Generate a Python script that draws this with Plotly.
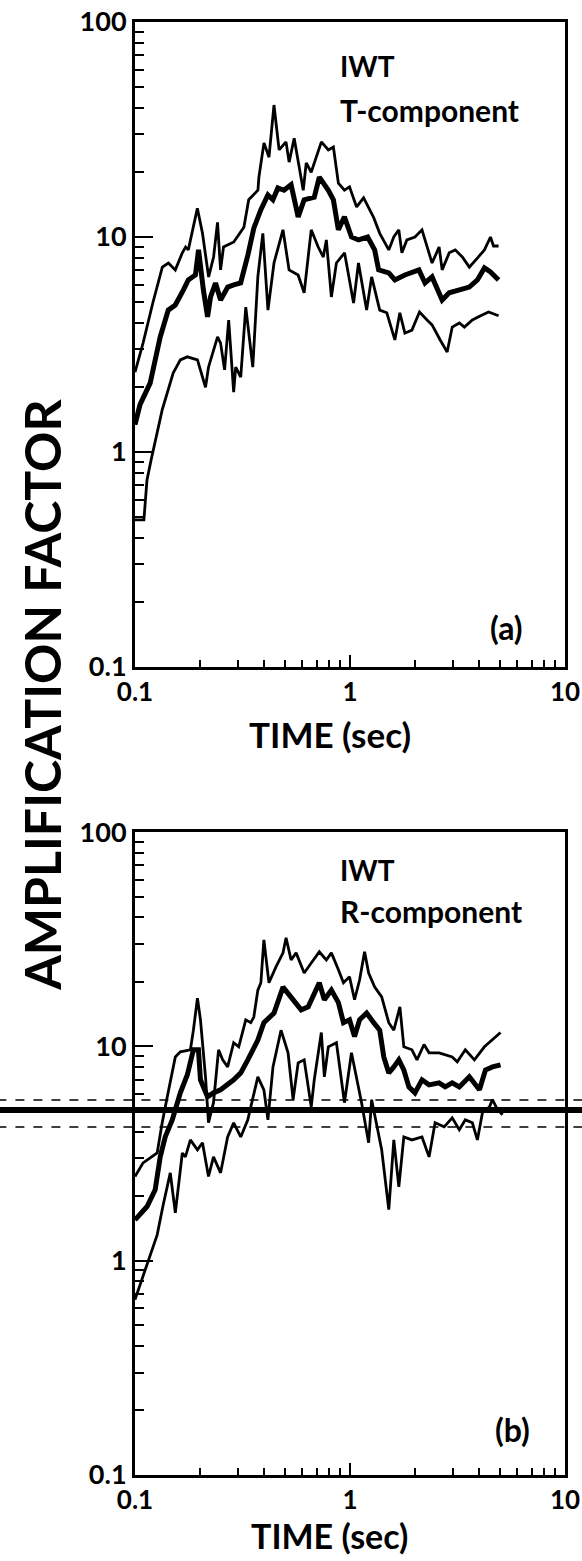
import plotly.graph_objects as go

# ---------------- data ----------------
# Panel (a): IWT T-component
t_up_x = [0.100,0.109,0.121,0.134,0.143,0.154,0.166,0.172,0.177,0.195,0.206,0.220,0.232,0.242,0.250,0.258,0.288,0.321,0.338,0.373,0.377,0.398,0.420,0.443,0.468,0.504,0.521,0.550,0.606,0.626,0.660,0.736,0.793,0.837,0.883,0.942,0.995,1.073,1.157,1.289,1.375,1.515,1.598,1.687,1.743,1.839,2.005,2.162,2.233,2.408,2.597,2.683,2.894,3.087,3.329,3.589,3.913,4.220,4.502,4.650,4.910]
t_up_y = [2.35,3.21,4.93,7.24,7.57,7.03,8.44,8.98,8.71,13.6,10.4,6.52,8.07,11.7,7.03,8.98,9.48,11.1,14.9,16.5,19.0,27.4,23.5,41.1,25.4,27.7,22.3,28.8,16.5,22.1,20.0,27.7,25.4,26.2,17.8,16.5,17.1,13.8,15.2,12.3,10.4,8.71,10.0,10.8,8.44,9.69,10.0,10.8,9.69,7.57,8.98,7.03,8.44,8.71,8.07,7.24,7.98,8.71,10.0,9.08,9.08]

t_mid_x = [0.100,0.1055,0.1176,0.131,0.1428,0.154,0.168,0.177,0.191,0.1975,0.208,0.2175,0.2246,0.2369,0.250,0.270,0.288,0.310,0.335,0.357,0.385,0.415,0.438,0.462,0.493,0.532,0.574,0.612,0.682,0.720,0.793,0.837,0.883,0.942,1.016,1.095,1.208,1.302,1.359,1.515,1.617,1.800,2.092,2.233,2.408,2.683,2.894,3.225,3.589,3.913,4.220,4.502,4.910]
t_mid_y = [1.34,1.66,2.09,3.43,4.57,4.83,5.67,6.31,6.66,8.71,5.67,4.25,5.26,6.11,5.09,5.85,5.99,6.11,8.24,11.0,13.4,15.7,14.9,16.9,16.5,17.5,12.4,14.9,15.3,19.0,16.5,14.9,10.8,12.4,10.0,9.69,10.0,8.71,7.03,6.81,6.31,6.66,7.03,6.11,6.52,5.09,5.50,5.67,5.85,6.31,7.18,6.87,6.31]

t_low_x = [0.100,0.110,0.1137,0.1188,0.1338,0.1505,0.1625,0.175,0.1952,0.2128,0.2197,0.2421,0.2501,0.261,0.2727,0.2877,0.294,0.3103,0.3275,0.353,0.3727,0.3932,0.4154,0.443,0.4878,0.5207,0.5736,0.612,0.6602,0.7113,0.7513,0.7762,0.8192,0.8646,0.9434,1.039,1.095,1.195,1.261,1.375,1.483,1.617,1.705,1.800,1.941,2.105,2.282,2.408,2.627,2.831,2.988,3.225,3.404,3.708,4.05,4.41,4.910]
t_low_y = [0.483,0.483,0.741,0.918,1.57,2.33,2.68,2.77,2.68,2.00,2.48,3.43,3.21,2.41,4.11,1.90,2.48,2.23,4.72,2.48,6.52,10.4,4.57,7.57,10.8,7.03,6.66,5.50,10.8,8.98,8.07,9.69,5.26,7.57,8.44,4.93,7.57,4.57,6.52,4.57,4.44,3.32,4.44,3.57,3.69,4.48,4.11,3.90,3.32,2.92,3.81,3.98,3.81,4.11,4.30,4.48,4.30]

# Panel (b): IWT R-component
r_up_x = [0.100,0.109,0.1268,0.1338,0.1413,0.154,0.1625,0.181,0.1869,0.1952,0.2016,0.2128,0.2197,0.2318,0.2447,0.2557,0.2697,0.2877,0.3037,0.3275,0.3456,0.357,0.3727,0.385,0.3976,0.4198,0.4525,0.4881,0.5042,0.5321,0.5616,0.6121,0.6602,0.7197,0.7762,0.8192,0.8833,0.9324,0.9947,1.050,1.108,1.169,1.221,1.303,1.404,1.515,1.599,1.706,1.780,1.941,2.049,2.210,2.332,2.597,2.988,3.154,3.439,3.790,4.220,4.600,5.013]
r_up_y = [2.47,2.86,3.18,4.40,5.82,8.93,9.43,9.64,11.9,16.8,13.3,7.21,4.40,5.46,9.64,8.65,8.02,10.4,9.95,13.3,12.9,13.7,18.3,19.8,31.4,19.8,23.5,27.3,32.1,25.3,27.3,22.0,24.5,27.6,25.3,27.3,22.8,19.8,21.1,16.5,20.4,27.6,22.0,18.9,17.0,12.9,11.9,15.3,9.95,9.64,8.65,10.2,9.33,9.33,8.93,8.47,9.64,8.65,9.95,10.7,11.6]

r_mid_x = [0.100,0.1138,0.1241,0.131,0.1382,0.149,0.1625,0.1752,0.1869,0.1973,0.2016,0.2174,0.2318,0.2501,0.2877,0.3103,0.3347,0.3727,0.3976,0.443,0.4881,0.5321,0.5927,0.6391,0.7197,0.7598,0.8192,0.8833,0.9324,0.9947,1.050,1.108,1.195,1.289,1.375,1.436,1.515,1.599,1.687,1.780,1.879,2.005,2.162,2.332,2.597,2.771,2.988,3.224,3.589,3.999,4.266,4.600,5.013]
r_mid_y = [1.55,1.79,2.14,3.05,3.78,4.54,6.07,7.37,9.64,9.64,6.98,5.82,6.07,6.27,6.98,7.52,8.65,10.7,12.9,14.3,18.9,17.0,14.8,15.3,19.8,16.5,18.3,16.0,12.9,13.3,11.1,13.3,14.3,12.9,11.9,8.93,7.52,8.02,8.65,7.76,6.47,6.07,6.98,6.61,6.76,6.47,6.76,6.47,7.21,6.27,7.76,8.02,8.20]

r_low_x = [0.100,0.1055,0.1176,0.1268,0.1352,0.1459,0.154,0.166,0.1715,0.181,0.1952,0.206,0.2197,0.2318,0.2501,0.2697,0.2877,0.3103,0.3347,0.3532,0.3727,0.3976,0.4152,0.4383,0.4777,0.5151,0.5437,0.5739,0.6121,0.6602,0.6819,0.7355,0.7598,0.7929,0.8646,0.9423,1.016,1.132,1.221,1.261,1.331,1.404,1.515,1.599,1.687,1.780,1.941,2.162,2.332,2.487,2.741,2.988,3.224,3.439,3.708,3.913,4.130,4.452,4.600,4.855,5.124]
r_low_y = [0.658,0.773,1.07,1.32,1.82,2.57,1.67,3.18,3.05,3.66,3.29,3.55,2.47,3.05,2.57,3.78,4.40,3.78,4.54,5.64,7.21,6.27,4.54,8.02,11.9,9.33,5.64,8.38,8.65,5.22,6.98,11.6,7.21,9.95,10.4,5.46,9.33,5.46,3.55,5.64,4.21,3.29,1.73,3.66,2.21,3.78,3.66,3.78,3.05,4.40,4.21,4.64,4.08,4.54,4.40,3.66,4.90,5.22,5.64,5.06,4.80]

x_tick_vals = [0.1, 1, 10]
x_tick_text = ["0.1", "1", "10"]
y_tick_vals = [0.1, 1, 10, 100]
y_tick_text = ["0.1", "1", "10", "100"]
minor_vals = [k * 10.0 ** e for e in (-1, 0, 1) for k in range(2, 10)]

series = [
    (t_up_x, t_up_y, "x", "y", 2.8), (t_mid_x, t_mid_y, "x", "y", 5.0), (t_low_x, t_low_y, "x", "y", 2.8),
    (r_up_x, r_up_y, "x2", "y2", 2.8), (r_mid_x, r_mid_y, "x2", "y2", 5.0), (r_low_x, r_low_y, "x2", "y2", 2.8),
]
for sx, sy, *_ in series:
    assert len(sx) == len(sy), (len(sx), len(sy))

FONT = "Lato"
fig = go.Figure()
for sx, sy, xa, ya, w in series:
    fig.add_trace(go.Scatter(x=sx, y=sy, xaxis=xa, yaxis=ya, mode="lines",
                             line=dict(color="black", width=w), showlegend=False,
                             hoverinfo="skip"))

def xax(anchor):
    return dict(type="log", range=[-1, 1], domain=[0, 1], anchor=anchor, automargin=False,
                showline=True, linecolor="black", linewidth=3, mirror=True,
                ticks="inside", ticklen=12, tickwidth=2, tickcolor="black",
                tickvals=x_tick_vals, ticktext=x_tick_text,
                minor=dict(ticks="inside", ticklen=7, tickwidth=2, tickcolor="black",
                           tickvals=minor_vals, showgrid=False),
                showgrid=False, zeroline=False,
                tickfont=dict(family=FONT, size=26, color="black", weight="bold"))

def yax(anchor, dom):
    return dict(type="log", range=[-1, 2], domain=dom, anchor=anchor, automargin=False,
                showline=True, linecolor="black", linewidth=3, mirror=True,
                ticks="inside", ticklen=18, tickwidth=2, tickcolor="black",
                tickvals=y_tick_vals, ticktext=y_tick_text,
                minor=dict(ticks="inside", ticklen=9, tickwidth=2, tickcolor="black",
                           tickvals=minor_vals + [k * 10.0 for k in range(20, 100, 10)],
                           showgrid=False),
                showgrid=False, zeroline=False,
                tickfont=dict(family=FONT, size=27, color="black", weight="bold"))

fig.update_layout(
    width=582, height=1561,
    margin=dict(l=135, r=17, t=22, b=86, autoexpand=False),
    paper_bgcolor="white", plot_bgcolor="white",
    xaxis=xax("y"), yaxis=yax("x", [0.5561, 1.0]),
    xaxis2=xax("y2"), yaxis2=yax("x2", [0.0, 0.4425]),
    font=dict(family=FONT, color="black"),
)

def ann(text, x, y, size, xanchor="left", angle=0):
    fig.add_annotation(text=text, x=x, y=y, xref="paper", yref="paper",
                       xanchor=xanchor, yanchor="middle", showarrow=False,
                       textangle=angle, font=dict(family=FONT, size=size, color="black", weight="bold"))

ann("IWT", 0.472, 0.9697, 28)
ann("T-component", 0.472, 0.9394, 30)
ann("(a)", 0.865, 0.5836, 32, xanchor="center")
ann("IWT", 0.472, 0.4164, 28)
ann("R-component", 0.472, 0.3882, 30)
ann("(b)", 0.877, 0.031, 32, xanchor="center")
ann("TIME (sec)", 0.453, 0.510, 35, xanchor="center")
ann("TIME (sec)", 0.453, -0.0415, 34, xanchor="center")
ann("AMPLIFICATION FACTOR", -0.216, 0.537, 50, xanchor="center", angle=-90)

# scanner streak across panel (b)
for yy, w, dash in [(0.2581, 1.5, "dash"), (0.2512, 6, "solid"), (0.2395, 1.5, "dash")]:
    fig.add_shape(type="line", xref="paper", yref="paper", x0=-0.32, x1=1.05, y0=yy, y1=yy,
                  line=dict(color="black", width=w, dash=dash), layer="above")

fig.write_html("out.html", config={"displayModeBar": False},
               post_script="document.body.style.margin='0';")
